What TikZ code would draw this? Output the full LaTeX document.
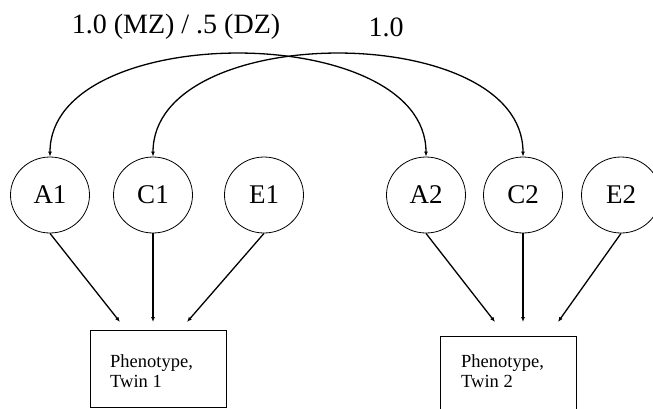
\documentclass[tikz,border=0pt]{standalone}
\usepackage{fontspec}
\setmainfont{Liberation Serif}
\usetikzlibrary{shapes.geometric,arrows.meta}
\begin{document}
\begin{tikzpicture}[x=1pt,y=-1pt,
        latent/.style={draw, ellipse, line width=0.8pt, minimum width=79pt, minimum height=76pt,
            inner sep=0pt, font=\fontsize{27}{27}\selectfont},
        pheno/.style={draw, rectangle, line width=0.8pt, minimum width=136pt, minimum height=77pt,
            anchor=north west},
        phenotext/.style={anchor=base west, align=left, inner sep=0pt,
            font=\fontsize{18.5}{20}\selectfont},
        corr/.style={line width=1.3pt, {Latex[length=5pt,width=4pt]}-{Latex[length=5pt,width=4pt]}},
        load/.style={line width=1.3pt, -{Latex[length=5pt,width=4pt]}}]
    \useasboundingbox (0, 0) rectangle (653, 408);

    % latent factors, twin 1 and twin 2
    \node[latent] (A1) at (50, 195) {A1};
    \node[latent] (C1) at (153, 195) {C1};
    \node[latent] (E1) at (264, 195) {E1};
    \node[latent] (A2) at (426, 195) {A2};
    \node[latent] (C2) at (523, 195) {C2};
    \node[latent] (E2) at (621, 195) {E2};

    % observed phenotypes (base anchor sits on the last line)
    \node[pheno] (P1) at (90, 330) {};
    \node[phenotext] (t1) at (110, 387) {Phenotype,\\Twin 1};
    \node[pheno] (P2) at (440, 336) {};
    \node[phenotext] (t2) at (461, 387) {Phenotype,\\Twin 2};

    % arrow ends just above the boxes
    \coordinate (a1) at (120, 322);
    \coordinate (c1) at (153, 322);
    \coordinate (e1) at (187, 322);
    \coordinate (a2) at (495, 322);
    \coordinate (c2) at (523, 322);
    \coordinate (e2) at (558, 322);

    \draw[load] (A1.south) -- (a1);
    \draw[load] (C1.south) -- (c1);
    \draw[load] (E1.south) -- (e1);
    \draw[load] (A2.south) -- (a2);
    \draw[load] (C2.south) -- (c2);
    \draw[load] (E2.south) -- (e2);

    % twin correlations
    \draw[corr] (A1.north) .. controls (50, 20) and (426, 20) .. (A2.north);
    \draw[corr] (C1.north) .. controls (153, 20) and (523, 20) .. (C2.north);
    \node[font=\fontsize{28}{28}\selectfont] (rA) at (176, 27) {1.0 (MZ) / .5 (DZ)};
    \node[font=\fontsize{28}{28}\selectfont] (rC) at (386, 27) {1.0};
\end{tikzpicture}
\end{document}
